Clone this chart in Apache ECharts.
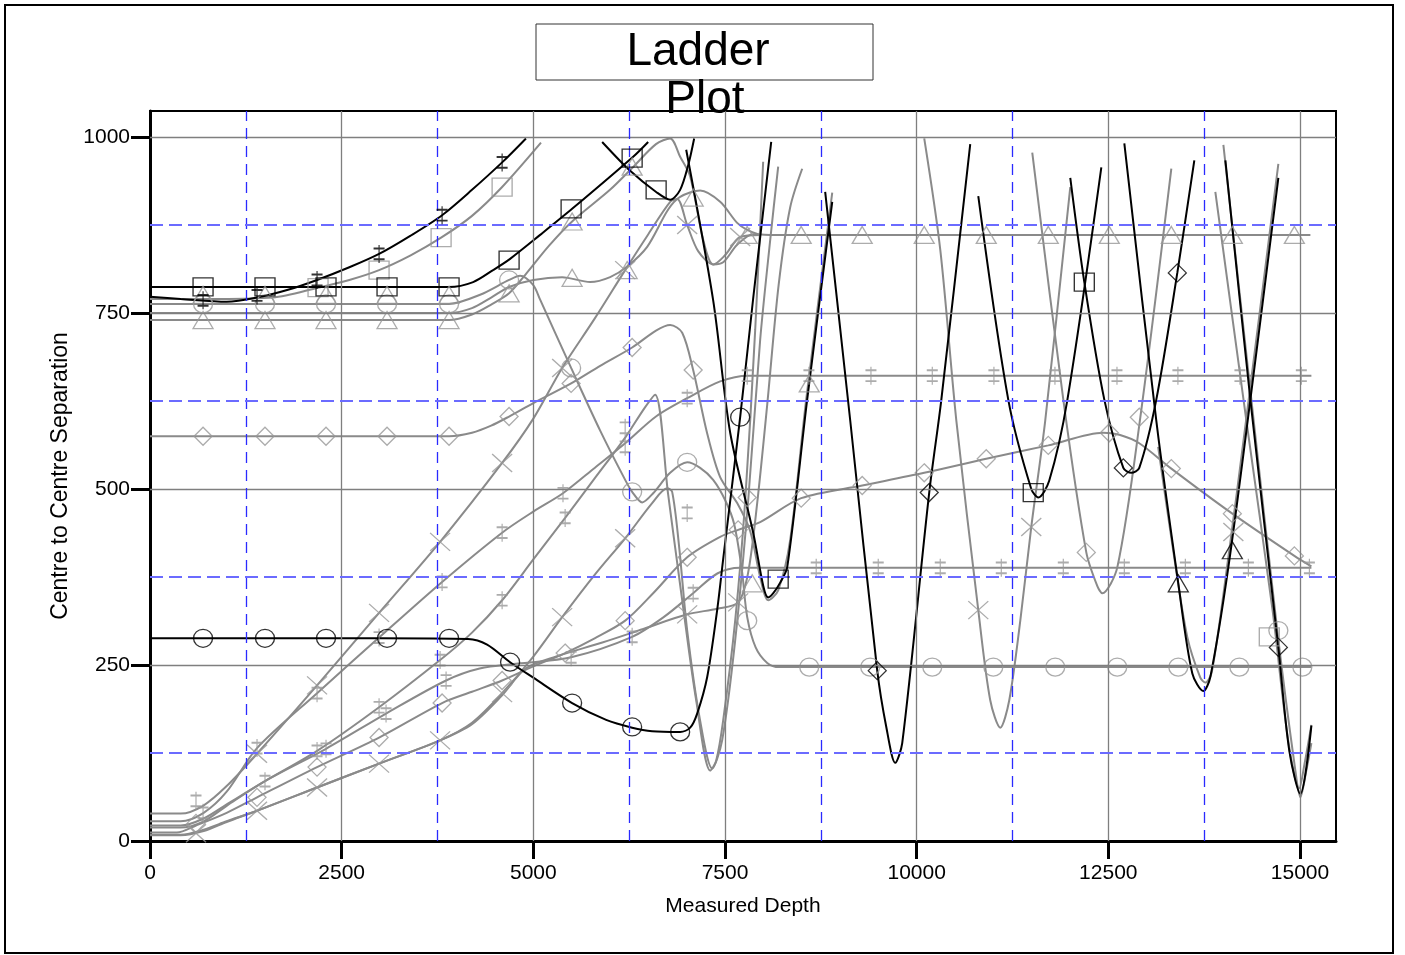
<!DOCTYPE html>
<html>
<head>
<meta charset="utf-8">
<script src="https://cdn.jsdelivr.net/npm/echarts@6/dist/echarts.min.js"></script>
<style>
html,body{margin:0;padding:0;background:#fff;}
#main{width:1405px;height:955px;}
</style>
</head>
<body>
<div id="main"></div>
<script>
// ---------- axis ticks / grid values ----------
const xTicks = [0, 2500, 5000, 7500, 10000, 12500, 15000];
const yTicks = [0, 250, 500, 750, 1000];
const xMajorGrid = [2500, 5000, 7500, 10000, 12500, 15000];
const xMinorGrid = [1250, 3750, 6250, 8750, 11250, 13750];
const yMajorGrid = [250, 500, 750, 1000];
const yMinorGrid = [125, 375, 625, 875];

// ---------- black curves ----------
const blackSqA = [[0,787],[1000,787],[2000,787],[3000,787],[3900,787],[4215,794],[4475,811],[4697,827],[5089,861],[5506,898],[6302,972],[6498,993]];
const blackSqB = [[5898,993],[6263,952],[6602,922],[6785,911],[6915,925],[7020,960],[7098,998]];
const blackPlus = [[0,773],[400,770],[1000,766],[1396,772],[1800,783],[2179,797],[2600,815],[2988,834],[3400,860],[3810,889],[4200,925],[4593,964],[4904,998]];
const blackCircle = [[0,288],[1000,288],[2000,288],[3000,288],[4149,287],[4397,279],[4697,254],[5000,232],[5506,196],[5950,172],[6289,161],[6550,156],[6915,155],[7046,161],[7137,181],[7268,233],[7398,328],[7476,400],[7698,602],[7868,771],[8103,993]];
const blackV1 = [[6994,982],[7346,768],[7568,580],[7868,438],[8000,362],[8064,346],[8130,352],[8220,367],[8312,389],[8572,627],[8899,908]];
const blackV2 = [[8807,922],[9134,597],[9486,242],[9604,162],[9721,111],[9812,139],[10164,495],[10321,626],[10699,990]];
const blackV3 = [[10804,916],[11195,627],[11495,500],[11587,488],[11730,512],[11965,626],[12409,957]];
const blackV4 = [[12004,942],[12187,794],[12448,627],[12696,530],[12800,523],[12904,530],[13126,627],[13400,807],[13622,967]];
const blackV5 = [[12709,991],[13126,597],[13413,366],[13596,238],[13740,213],[13831,233],[14066,389],[14353,627],[14718,942]];
const blackV6 = [[14027,967],[14353,627],[14718,275],[14861,128],[15005,67],[15149,164]];

// ---------- black markers ----------
const blackSqMarks = [[692,787],[1500,787],[2296,787],[3092,787],[3901,787],[4684,825],[5493,898],[6289,970],[6602,925],[8194,372],[11521,495],[12187,794]];
const blackPlusMarks = [[692,768],[1396,775],[2179,797],[2988,834],[3810,889],[4593,964]];
const blackCircleMarks = [[692,288],[1500,288],[2296,288],[3092,288],[3901,288],[4697,254],[5506,196],[6289,162],[6915,155],[7698,602]];
const blackDiamondMarks = [[9486,242],[10164,495],[12696,530],[13400,807],[14718,275]];
const blackTriMarks = [[13413,366],[14118,413]];

// ---------- grey curves ----------
const greySq = [[0,770],[900,770],[1600,772],[2192,786],[2600,797],[2988,811],[3400,832],[3797,857],[4200,888],[4593,929],[5100,992]];
const greyTri = [[0,740],[1000,740],[2000,740],[3000,740],[3901,740],[4200,748],[4450,762],[4684,778],[4900,805],[5200,845],[5506,880],[6000,925],[6289,956],[6600,990],[6785,998],[6915,972],[7046,944],[7216,854],[7346,819],[7476,822],[7659,847],[7868,862],[8090,861],[9000,861],[10000,861],[11000,861],[12000,861],[13000,861],[14000,861],[15136,861]];
const greyWavy = [[0,750],[1000,750],[2000,750],[3000,750],[3901,750],[4200,757],[4450,772],[4684,787],[5000,797],[5376,801],[5741,794],[6002,801],[6224,816],[6485,844],[6759,897],[6915,915],[7176,924],[7437,908],[7659,878],[7790,868],[7959,861]];
const greyCircle = [[0,763],[1000,763],[2000,763],[3000,763],[3901,763],[4306,776],[4684,797],[4828,803],[4997,790],[5089,769],[5493,672],[5872,583],[6198,513],[6289,496],[6420,481],[6563,494],[6785,523],[7007,538],[7176,530],[7346,513],[7503,484],[7620,450],[7720,385],[7790,318],[7900,275],[8051,253],[8207,247],[9000,247],[10000,247],[11000,247],[12000,247],[13000,247],[14000,247],[15149,247]];
const greyDiamondA = [[0,575],[1000,575],[2000,575],[3000,575],[3901,575],[4200,580],[4450,590],[4684,603],[5000,622],[5493,650],[5872,675],[6289,701],[6600,725],[6785,733],[6942,722],[7085,669],[7268,579],[7437,517],[7659,480],[7829,440],[7959,375],[8064,342],[8194,356],[8351,428],[8559,627],[8899,921]];
const greyDiamondB = [[0,12],[350,12],[600,22],[1000,40],[1396,62],[2179,105],[2988,147],[3810,196],[4200,212],[4593,228],[5000,248],[5415,267],[5800,288],[6198,313],[6563,352],[7007,403],[7437,432],[7672,442],[7959,453],[8494,487],[9290,505],[10099,523],[10908,543],[11717,562],[12435,580],[12644,577],[12904,565],[13322,529],[14118,465],[14927,405],[15149,390]];
const greyX1 = [[0,39],[400,39],[692,50],[1000,78],[1396,124],[2179,221],[2988,324],[3784,425],[4593,537],[5000,600],[5376,672],[5800,742],[6198,811],[6500,862],[6785,908],[6876,912],[7007,875],[7150,838],[7346,819],[7500,832],[7698,858],[7959,861]];
const greyX2 = [[0,9],[400,9],[700,16],[1000,28],[1396,43],[2179,76],[2988,110],[3784,143],[4200,168],[4593,210],[5000,262],[5376,318],[5800,378],[6198,430],[6550,480],[6746,501],[6811,496],[6900,420],[7007,299],[7176,171],[7333,103],[7463,143],[7633,285],[7803,484],[7959,712],[8090,854],[8194,958]];
const greyX3 = [[0,8],[400,8],[700,14],[1000,27],[1396,43],[2179,76],[2988,110],[3784,143],[4200,166],[4593,207],[4900,245],[5300,262],[5900,282],[6400,300],[7007,322],[7400,330],[7672,339],[7800,380],[7920,480],[8051,620],[8200,790],[8350,900],[8507,955]];
const greyDag1 = [[0,28],[400,28],[700,40],[1000,70],[1396,132],[2179,210],[2988,289],[3810,368],[4593,438],[5000,468],[5387,494],[5800,530],[6198,565],[6600,603],[7007,629],[7437,653],[7803,661],[8500,661],[9500,661],[10500,661],[11500,661],[12500,661],[13500,661],[14500,661],[15149,661]];
const greyDag2 = [[0,22],[400,22],[700,32],[1000,52],[1500,85],[2179,128],[2988,190],[3784,257],[4200,296],[4593,342],[5000,400],[5415,459],[5800,515],[6198,573],[6450,615],[6589,634],[6759,492],[6942,342],[7124,200],[7307,100],[7385,114],[7476,171],[7633,313],[7764,484],[7894,726],[7998,965]];
const greyDag3 = [[0,19],[400,19],[700,28],[1000,50],[1500,85],[2296,131],[3079,181],[3862,228],[4300,245],[4800,252],[5493,261],[6289,290],[6700,318],[7085,352],[7400,380],[7700,388],[8100,388],[9000,388],[10000,388],[11000,388],[12000,388],[13000,388],[14000,388],[15149,388]];
const greyV2 = [[10099,998],[10308,840],[10517,598],[10804,328],[10960,200],[11091,161],[11208,200],[11352,313],[11495,446],[11678,598],[12004,929]];
const greyV3 = [[11508,978],[11913,627],[12213,410],[12357,362],[12422,352],[12618,389],[12918,602],[13322,955]];
const greyV5 = [[13150,560],[13350,410],[13530,290],[13700,232],[13766,225],[13850,240],[14050,390],[14300,600],[14718,962]];
const greyV6a = [[14001,989],[14366,627],[14718,286],[14940,100],[15005,62],[15083,100],[15149,139]];
const greyV6b = [[13896,922],[14301,597],[14640,330],[14850,140],[14990,75],[15060,110],[15149,165]];

// ---------- grey markers ----------
const greySqMarks = [[2192,786],[2988,811],[3797,857],[4593,929],[14600,290]];
const greyTriMarks = [[692,740],[1500,740],[2296,740],[3092,740],[3901,740],[692,776],[1500,776],[2296,776],[3092,776],[3901,776],[4684,778],[5506,880],[6289,958],[5506,800],[6224,811],[7085,914],[7790,861],[8494,861],[9290,861],[10099,861],[10908,861],[11717,861],[12513,861],[13322,861],[14118,861],[14927,861],[8599,650],[7855,366]];
const greyCircleMarks = [[692,763],[1500,763],[2296,763],[3092,763],[3901,763],[4684,797],[5493,672],[6289,496],[7007,538],[7790,313],[8599,247],[9394,247],[10204,247],[11000,247],[11808,247],[12617,247],[13413,247],[14209,247],[15031,247],[14718,299]];
const greyDiamondMarks = [[692,575],[1500,575],[2296,575],[3092,575],[3901,575],[4684,603],[5493,650],[6289,701],[7085,669],[7790,488],[600,25],[1396,62],[2179,105],[2988,147],[3810,196],[4593,228],[5415,267],[6198,313],[7007,403],[7672,442],[8494,487],[9290,505],[10099,523],[10908,543],[11717,562],[12513,580],[13322,529],[14118,465],[14927,405],[12213,410],[12904,602]];
const greyXMarks = [[600,11],[1396,124],[1396,43],[2179,221],[2179,76],[2988,324],[2988,110],[3784,425],[3784,143],[4593,537],[4593,210],[5376,672],[5376,318],[6198,811],[6198,430],[7007,875],[7698,858],[7007,322],[7672,339],[10804,328],[11495,446],[14131,439]];
const greyDagMarks = [[600,57],[692,40],[1396,132],[1500,85],[2179,210],[2179,128],[2296,131],[2988,289],[2988,190],[3079,181],[3810,368],[3784,257],[3862,228],[4593,438],[4593,342],[5387,494],[5415,459],[5493,261],[6198,560],[6198,587],[6289,290],[7007,629],[7007,466],[7085,352],[7790,661],[8595,661],[9404,661],[10204,661],[11008,661],[11804,661],[12613,661],[13408,661],[14217,661],[15018,661],[8690,388],[9499,388],[10308,388],[11104,388],[11913,388],[12709,388],[13505,388],[14327,388],[15123,388]];

// ---------- styling ----------
const BLACK = '#000000';
const GREY_LINE = '#8a8a8a';
const GREY_MARK = '#979797';
const FONT = '"Liberation Sans", Arial, Helvetica, sans-serif';
const SYM_X = 'path://M0,0L20,18M20,0L0,18';
const SYM_DAG = 'path://M5,0L5,20M1,4L9,4M1,16L9,16';

function lineS(data, color, z) {
  return {type:'line', data:data, smooth:0.3, symbol:'none', showSymbol:false,
    lineStyle:{color:color, width:2}, z:z, silent:true, animation:false};
}
function markS(data, symbol, size, color, z, bw) {
  return {type:'scatter', data:data, symbol:symbol, symbolSize:size,
    itemStyle:{color:'rgba(0,0,0,0)', borderColor:color, borderWidth:bw || 1.3},
    z:z, silent:true, animation:false};
}
const plainNum = v => String(v);

const series = [
  {type:'line', data:[], silent:true, z:1,
   markLine:{silent:true, symbol:['none','none'], label:{show:false}, animation:false,
     lineStyle:{color:'#7f7f7f', width:1.3, type:'solid'},
     data: xMajorGrid.map(v=>({xAxis:v})).concat(yMajorGrid.map(v=>({yAxis:v})))}},
  {type:'line', data:[], silent:true, z:1,
   markLine:{silent:true, symbol:['none','none'], label:{show:false}, animation:false,
     lineStyle:{color:'#2a2aff', width:1.3, type:[11,7]},
     data: xMinorGrid.map(v=>({xAxis:v}))}},
  {type:'line', data:[], silent:true, z:1,
   markLine:{silent:true, symbol:['none','none'], label:{show:false}, animation:false,
     lineStyle:{color:'#6b6bff', width:1.8, type:[13,6]},
     data: yMinorGrid.map(v=>({yAxis:v}))}}
];

[greySq, greyTri, greyWavy, greyCircle, greyDiamondA, greyDiamondB, greyX1, greyX2, greyX3,
 greyDag1, greyDag2, greyDag3, greyV2, greyV3, greyV5, greyV6a, greyV6b].forEach(d => series.push(lineS(d, GREY_LINE, 2)));
[blackSqA, blackSqB, blackPlus, blackCircle, blackV1, blackV2, blackV3, blackV4, blackV5, blackV6].forEach(d => series.push(lineS(d, BLACK, 3)));

series.push(markS(greySqMarks, 'rect', [20,18], GREY_MARK, 4));
series.push(markS(greyTriMarks, 'triangle', [20,17], GREY_MARK, 4));
series.push(markS(greyCircleMarks, 'circle', [19,18], GREY_MARK, 4));
series.push(markS(greyDiamondMarks, 'diamond', [18,18], GREY_MARK, 4));
series.push(markS(greyXMarks, SYM_X, [20,18], GREY_MARK, 4));
series.push(markS(greyDagMarks, SYM_DAG, [11,18], GREY_MARK, 4, 1.5));
series.push(markS(blackSqMarks, 'rect', [20,18], BLACK, 5));
series.push(markS(blackPlusMarks, SYM_DAG, [11,18], BLACK, 5, 1.5));
series.push(markS(blackCircleMarks, 'circle', [19,18], BLACK, 5));
series.push(markS(blackDiamondMarks, 'diamond', [18,18], BLACK, 5));
series.push(markS(blackTriMarks, 'triangle', [20,17], BLACK, 5));

const chart = echarts.init(document.getElementById('main'));
chart.setOption({
  backgroundColor:'#ffffff',
  animation:false,
  grid:{left:150, right:69, top:111, bottom:114, show:true, borderColor:'#000', borderWidth:2, backgroundColor:'rgba(0,0,0,0)'},
  xAxis:{type:'value', min:0, max:15470, interval:2500,
    name:'Measured Depth', nameLocation:'middle', nameGap:55,
    nameTextStyle:{fontFamily:FONT, fontSize:21, color:'#000'},
    axisLine:{show:true, lineStyle:{color:'#000', width:3}},
    axisTick:{show:true, length:18, customValues:xTicks, lineStyle:{color:'#000', width:3}},
    axisLabel:{customValues:xTicks, formatter:plainNum, fontFamily:FONT, fontSize:21, color:'#000', margin:22},
    splitLine:{show:false}},
  yAxis:{type:'value', min:0, max:1037, interval:250,
    name:'Centre to Centre Separation', nameLocation:'middle', nameGap:74, nameRotate:90,
    nameTextStyle:{fontFamily:FONT, fontSize:23, color:'#000'},
    axisLine:{show:true, lineStyle:{color:'#000', width:3}},
    axisTick:{show:true, length:19, customValues:yTicks, lineStyle:{color:'#000', width:3}},
    axisLabel:{customValues:yTicks, formatter:plainNum, fontFamily:FONT, fontSize:21, color:'#000', margin:20},
    splitLine:{show:false}},
  graphic:[
    {type:'rect', silent:true, z:0, shape:{x:5, y:5, width:1388, height:948},
     style:{fill:'none', stroke:'#000', lineWidth:2}},
    {type:'rect', silent:true, z:100, shape:{x:536, y:24, width:337, height:56},
     style:{fill:'#fff', stroke:'#333', lineWidth:1}},
    {type:'text', silent:true, z:101, x:698, y:52,
     style:{text:'Ladder', fill:'#000', font:'46px ' + FONT, align:'center', verticalAlign:'middle'}},
    {type:'text', silent:true, z:101, x:705, y:100,
     style:{text:'Plot', fill:'#000', font:'46px ' + FONT, align:'center', verticalAlign:'middle'}}
  ],
  series:series
});
</script>
</body>
</html>
